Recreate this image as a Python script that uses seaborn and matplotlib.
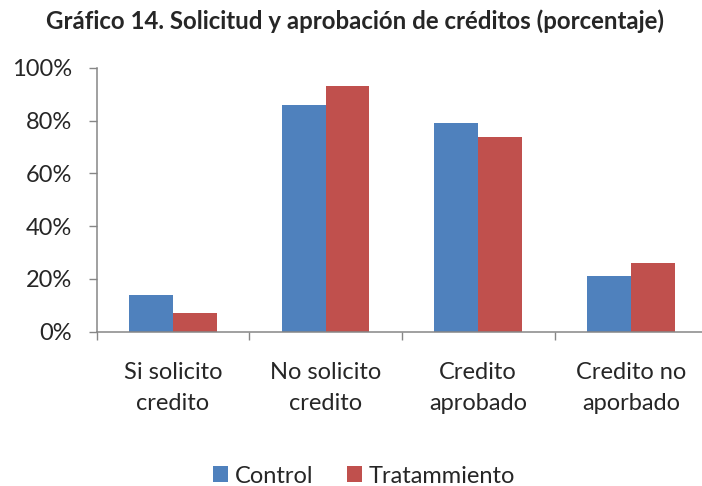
# plot.py
# Gráfico 14 - Solicitud y aprobación de créditos (porcentaje)

import matplotlib.pyplot as plt
import matplotlib.ticker as mticker
import pandas as pd
import seaborn as sns

# ---------------------------------------------------------------------------
# Data
# ---------------------------------------------------------------------------

categorias = ["Si solicito\ncredito", "No solicito\ncredito",
              "Credito\naprobado", "Credito no\naporbado"]
control = [14, 86, 79, 21]
tratamiento = [7, 93, 74, 26]
grupos = ["Control", "Tratammiento"]
y_ticks = [0, 20, 40, 60, 80, 100]

colores = ["#4F81BD", "#C0504D"]
gris = "#868686"

df = pd.DataFrame({
    "categoria": categorias * 2,
    "valor": control + tratamiento,
    "grupo": [grupos[0]] * len(control) + [grupos[1]] * len(tratamiento),
})

# ---------------------------------------------------------------------------
# Figure
# ---------------------------------------------------------------------------

sns.set_style("white")
plt.rcParams["font.family"] = ["Lato", "DejaVu Sans"]

fig = plt.figure(figsize=(7.02, 4.86), dpi=100)
ax = fig.add_axes([96.7 / 702, 154.3 / 486, 610.4 / 702, 263.7 / 486])

sns.barplot(data=df, x="categoria", y="valor", hue="grupo",
            palette=colores, width=0.573, gap=0, saturation=1,
            linewidth=0, ax=ax)

ax.set_xlim(-0.5, 3.5)
ax.set_ylim(0, 100)
ax.set_xlabel("")
ax.set_ylabel("")

# y axis: percentages with outward ticks
ax.set_yticks(y_ticks)
ax.yaxis.set_major_formatter(mticker.FuncFormatter(lambda v, _: f"{v:.0f}%"))
ax.tick_params(axis="y", which="major", left=True, length=6, width=1,
               color=gris, direction="out", pad=12, labelsize=17)

# x axis: labels centred, tick marks on the category boundaries
ax.set_xticks(range(len(categorias)))
ax.set_xticklabels(categorias, linespacing=1.55)
ax.set_xticks([-0.5, 0.5, 1.5, 2.5, 3.5], minor=True)
ax.tick_params(axis="x", which="major", length=0, pad=22, labelsize=17)
ax.tick_params(axis="x", which="minor", bottom=True, length=6, width=1,
               color=gris, direction="out")

for side in ["top", "right"]:
    ax.spines[side].set_visible(False)
for side in ["left", "bottom"]:
    ax.spines[side].set_color(gris)
    ax.spines[side].set_linewidth(1.1)

# legend below the chart
handles, labels = ax.get_legend_handles_labels()
ax.get_legend().remove()
fig.legend(handles, labels, loc="center", bbox_to_anchor=(364 / 702, 1 - 476 / 486),
           ncol=2, frameon=False, fontsize=17, handlelength=0.65,
           handleheight=0.65, handletextpad=0.3, columnspacing=1.4)

fig.text(355 / 702, 1 - 21 / 486,
         "Gráfico 14. Solicitud y aprobación de créditos (porcentaje)",
         ha="center", va="center", fontsize=17.3, fontweight="bold")

fig.savefig("out.png", dpi=100)
